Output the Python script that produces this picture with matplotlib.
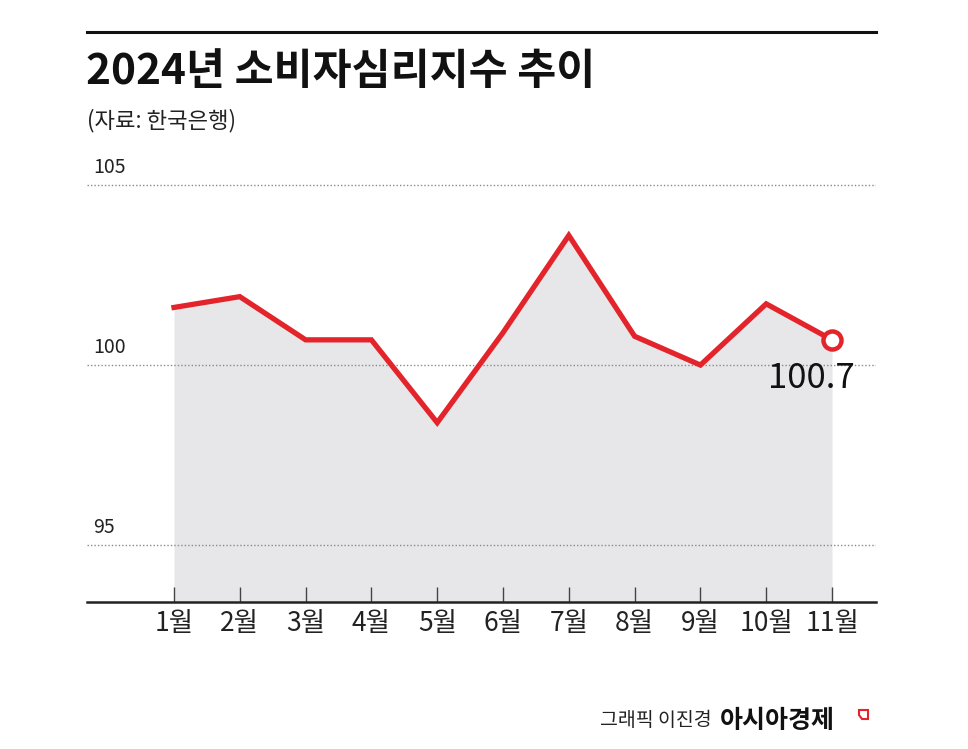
import matplotlib
matplotlib.use("Agg")
import matplotlib.pyplot as plt
from matplotlib.lines import Line2D
from matplotlib.patches import Polygon

plt.rcParams["font.family"] = ["Noto Sans CJK KR", "DejaVu Sans"]

# 2024 consumer sentiment index (Bank of Korea)
months = ["1월", "2월", "3월", "4월", "5월", "6월", "7월", "8월", "9월", "10월", "11월"]
values = [101.6, 101.9, 100.7, 100.7, 98.4, 100.9, 103.6, 100.8, 100.0, 101.7, 100.7]
ytick_vals = [95, 100, 105]
last_label = "100.7"

W, H = 968, 749
fig = plt.figure(figsize=(W / 100, H / 100), dpi=100)
fig.patch.set_facecolor("white")

# axes box in pixel terms: x 87..876, y 149..602
ax = fig.add_axes([87 / W, 1 - 602 / H, (876 - 87) / W, (602 - 149) / H])
x = list(range(len(months)))
ymin = 93.42
ax.set_xlim(-(174 - 87) / 65.8, len(months) - 1 + (876 - 832) / 65.8)
ax.set_ylim(ymin, 106.0)

red = "#e3242b"
ax.fill_between(x, values, ymin, color="#e7e7ea", lw=0, zorder=1)
for v in ytick_vals:
    ax.axhline(v, color="#8a8a8a", lw=1.0, ls=(0, (1, 1.5)), zorder=2)
    ax.text(0.008, v + 0.2, str(v), transform=ax.get_yaxis_transform(),
            fontsize=14, color="#222222", ha="left", va="bottom")
ax.plot(x, values, color=red, lw=3.8, solid_joinstyle="miter", zorder=3)
ax.plot(x[-1], values[-1], "o", ms=13, mfc="white", mec=red, mew=3.2, zorder=4)
ax.text(x[-1] + 0.35, 100.1, last_label, fontsize=25, fontweight="medium",
        ha="right", va="top", color="#111111", zorder=5)

for s in ["top", "right", "left"]:
    ax.spines[s].set_visible(False)
ax.spines["bottom"].set_linewidth(1.8)
ax.spines["bottom"].set_color("#222222")
ax.set_yticks([])
ax.set_xticks(x)
ax.set_xticklabels(months)
ax.tick_params(axis="x", direction="in", length=11, width=1.0, color="#444444",
               labelsize=19, pad=6, labelcolor="#222222")

# header
fig.add_artist(Line2D([87 / W, 876 / W], [1 - 32 / H, 1 - 32 / H],
                      color="#111111", lw=2.2))
fig.text(86 / W, 1 - 72 / H, "2024년 소비자심리지수 추이", fontsize=30.5,
         fontweight="bold", ha="left", va="center", color="#111111")
fig.text(87 / W, 1 - 121 / H, "(자료: 한국은행)", fontsize=16,
         ha="left", va="center", color="#222222")

# footer
fig.text(712 / W, 1 - 721 / H, "그래픽 이진경", fontsize=14,
         ha="right", va="center", color="#222222")
fig.text(720 / W, 1 - 721 / H, "아시아경제", fontsize=18, fontweight="bold",
         ha="left", va="center", color="#111111")
fig.add_artist(Polygon([[859 / W, 1 - 710 / H], [868 / W, 1 - 710 / H],
                        [868 / W, 1 - 719 / H], [862 / W, 1 - 719 / H],
                        [859 / W, 1 - 715 / H]], closed=True, fill=False,
                       edgecolor=red, lw=1.5, transform=fig.transFigure))

fig.savefig("out.png", dpi=100, facecolor="white")
